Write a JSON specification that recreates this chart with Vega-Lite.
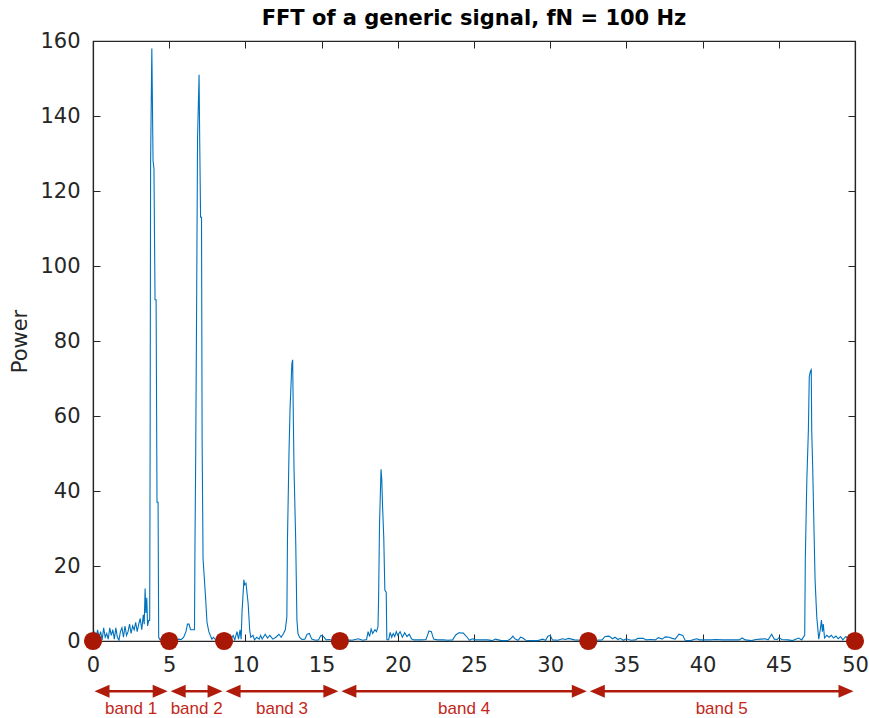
{
  "$schema": "https://vega.github.io/schema/vega-lite/v6.json",
  "autosize": "none",
  "width": 762,
  "height": 600,
  "padding": {"left": 93, "top": 41, "right": 14, "bottom": 77},
  "background": "white",
  "config": {
    "view": {"stroke": "#262626", "strokeWidth": 1.2},
    "font": "DejaVu Sans",
    "axis": {"grid": false}
  },
  "title": {
    "text": "FFT of a generic signal, fN = 100 Hz",
    "font": "DejaVu Sans",
    "fontSize": 21,
    "fontWeight": "bold",
    "color": "#000000",
    "anchor": "middle",
    "baseline": "bottom",
    "offset": -20
  },
  "datasets": {
    "fft": [
      {"f":0.0,"p":0.5},{"f":0.1,"p":2.5},{"f":0.2,"p":0.5},{"f":0.3,"p":3},{"f":0.4,"p":1},{"f":0.5,"p":2.5},{"f":0.6,"p":0.3},{"f":0.7,"p":3.5},{"f":0.8,"p":1},{"f":0.9,"p":2},
      {"f":1.0,"p":0.5},{"f":1.1,"p":3.5},{"f":1.2,"p":1.5},{"f":1.3,"p":3},{"f":1.4,"p":0.5},{"f":1.5,"p":3.5},{"f":1.6,"p":1},{"f":1.7,"p":0.2},{"f":1.8,"p":2.5},{"f":1.9,"p":3.5},
      {"f":2.0,"p":1},{"f":2.1,"p":4},{"f":2.2,"p":1.5},{"f":2.3,"p":2.5},{"f":2.4,"p":4.5},{"f":2.5,"p":2},{"f":2.6,"p":4},{"f":2.7,"p":3},{"f":2.8,"p":5},{"f":2.9,"p":2.5},
      {"f":3.0,"p":4.5},{"f":3.1,"p":6},{"f":3.2,"p":3},{"f":3.3,"p":7},{"f":3.36,"p":4.5},{"f":3.42,"p":14},{"f":3.47,"p":7.5},{"f":3.53,"p":11.5},{"f":3.58,"p":4},{"f":3.66,"p":5.5},
      {"f":3.72,"p":5.5},{"f":3.75,"p":55},{"f":3.78,"p":128},{"f":3.86,"p":158},{"f":3.89,"p":147},{"f":3.94,"p":128},{"f":4.0,"p":126},{"f":4.07,"p":91},{"f":4.14,"p":91},{"f":4.2,"p":37},
      {"f":4.27,"p":37},{"f":4.31,"p":1},{"f":4.4,"p":0.3},{"f":4.5,"p":0.8},{"f":4.6,"p":0.3},{"f":4.7,"p":0.6},{"f":4.8,"p":0.2},{"f":4.9,"p":0.4},{"f":5.0,"p":0.3},{"f":5.2,"p":0.5},
      {"f":5.4,"p":0.2},{"f":5.6,"p":0.5},{"f":5.8,"p":0.4},{"f":5.95,"p":1},{"f":6.1,"p":2.5},{"f":6.2,"p":4.5},{"f":6.3,"p":4.5},{"f":6.4,"p":3},{"f":6.55,"p":3},{"f":6.66,"p":3},
      {"f":6.69,"p":25},{"f":6.74,"p":50},{"f":6.8,"p":90},{"f":6.86,"p":134},{"f":6.96,"p":151},{"f":7.0,"p":134},{"f":7.06,"p":113},{"f":7.12,"p":113},{"f":7.16,"p":54},{"f":7.22,"p":22},
      {"f":7.38,"p":12},{"f":7.48,"p":5},{"f":7.6,"p":2.5},{"f":7.7,"p":1.5},{"f":7.8,"p":0.5},{"f":7.9,"p":1},{"f":8.0,"p":0.5},{"f":8.2,"p":0.3},{"f":8.4,"p":0.8},{"f":8.6,"p":0.3},
      {"f":8.8,"p":0.5},{"f":9.0,"p":0.3},{"f":9.2,"p":1.5},{"f":9.3,"p":0.3},{"f":9.45,"p":2.5},{"f":9.55,"p":0.5},{"f":9.65,"p":3},{"f":9.72,"p":0.5},{"f":9.78,"p":7.8},{"f":9.9,"p":16.3},
      {"f":9.95,"p":15},{"f":10.04,"p":15.4},{"f":10.18,"p":10},{"f":10.28,"p":3},{"f":10.35,"p":1},{"f":10.5,"p":1.5},{"f":10.6,"p":0.3},{"f":10.75,"p":1},{"f":10.9,"p":0.5},{"f":11.0,"p":1.5},
      {"f":11.1,"p":0.5},{"f":11.3,"p":1.8},{"f":11.45,"p":0.8},{"f":11.6,"p":1.5},{"f":11.8,"p":0.5},{"f":12.0,"p":1},{"f":12.2,"p":1.8},{"f":12.35,"p":1},{"f":12.5,"p":2},{"f":12.62,"p":3},
      {"f":12.72,"p":6.5},{"f":12.76,"p":27},{"f":12.86,"p":50},{"f":12.93,"p":62},{"f":13.05,"p":74},{"f":13.1,"p":75},{"f":13.14,"p":61},{"f":13.19,"p":46},{"f":13.3,"p":27},{"f":13.38,"p":5.6},
      {"f":13.45,"p":2},{"f":13.55,"p":1},{"f":13.7,"p":0.4},{"f":13.9,"p":0.5},{"f":14.05,"p":1.8},{"f":14.2,"p":2},{"f":14.35,"p":0.5},{"f":14.6,"p":0.2},{"f":14.8,"p":0.3},{"f":14.95,"p":1.5},
      {"f":15.1,"p":1.3},{"f":15.3,"p":0.3},{"f":15.5,"p":0.4},{"f":15.7,"p":0.2},{"f":15.9,"p":0.3},{"f":16.1,"p":0.3},{"f":16.4,"p":0.2},{"f":16.7,"p":0.3},{"f":17.0,"p":0.2},{"f":17.4,"p":0.6},
      {"f":17.7,"p":0.2},{"f":17.95,"p":0.4},{"f":18.05,"p":2.5},{"f":18.15,"p":1.2},{"f":18.25,"p":3.2},{"f":18.35,"p":2},{"f":18.5,"p":3},{"f":18.6,"p":2.5},{"f":18.7,"p":3.8},{"f":18.74,"p":11.5},
      {"f":18.8,"p":31},{"f":18.9,"p":45.8},{"f":18.95,"p":43},{"f":19.0,"p":36},{"f":19.08,"p":27.4},{"f":19.15,"p":13.6},{"f":19.24,"p":13},{"f":19.28,"p":0.4},{"f":19.4,"p":0.3},{"f":19.5,"p":2.3},
      {"f":19.6,"p":1},{"f":19.7,"p":2},{"f":19.8,"p":1.2},{"f":19.9,"p":2.5},{"f":20.0,"p":1.5},{"f":20.15,"p":2.5},{"f":20.3,"p":1},{"f":20.45,"p":2.2},{"f":20.6,"p":1.2},{"f":20.75,"p":1.8},
      {"f":20.9,"p":0.6},{"f":21.05,"p":0.3},{"f":21.3,"p":0.3},{"f":21.6,"p":0.3},{"f":21.85,"p":0.4},{"f":22.05,"p":2.7},{"f":22.2,"p":2.5},{"f":22.35,"p":0.5},{"f":22.6,"p":0.3},{"f":23.0,"p":0.3},
      {"f":23.3,"p":0.2},{"f":23.6,"p":0.3},{"f":23.8,"p":1.6},{"f":24.0,"p":2.2},{"f":24.3,"p":2.1},{"f":24.55,"p":1},{"f":24.7,"p":0.2},{"f":24.9,"p":0.6},{"f":25.1,"p":0.3},{"f":25.5,"p":0.3},
      {"f":25.9,"p":0.3},{"f":26.2,"p":0.1},{"f":26.4,"p":0.5},{"f":26.8,"p":0.1},{"f":27.2,"p":0.1},{"f":27.4,"p":0.6},{"f":27.55,"p":1.3},{"f":27.7,"p":0.5},{"f":27.9,"p":0.2},{"f":28.05,"p":1},
      {"f":28.2,"p":0.8},{"f":28.4,"p":0.2},{"f":28.8,"p":0.1},{"f":29.2,"p":0.1},{"f":29.5,"p":0.5},{"f":29.7,"p":0.2},{"f":29.85,"p":1.3},{"f":30.0,"p":1.5},{"f":30.15,"p":0.3},{"f":30.5,"p":0.2},
      {"f":30.8,"p":0.6},{"f":31.0,"p":0.4},{"f":31.2,"p":0.7},{"f":31.4,"p":0.5},{"f":31.6,"p":0.3},{"f":32.0,"p":0.2},{"f":32.5,"p":0.3},{"f":33.0,"p":0.2},{"f":33.4,"p":0.3},{"f":33.6,"p":1.2},
      {"f":33.85,"p":1.3},{"f":34.1,"p":0.6},{"f":34.25,"p":1},{"f":34.45,"p":0.4},{"f":34.6,"p":0.7},{"f":34.8,"p":0.2},{"f":35.0,"p":0.6},{"f":35.3,"p":0.2},{"f":35.6,"p":0.3},{"f":35.75,"p":0.7},
      {"f":36.1,"p":0.7},{"f":36.3,"p":0.3},{"f":36.6,"p":0.4},{"f":36.9,"p":0.3},{"f":37.1,"p":0.9},{"f":37.35,"p":0.5},{"f":37.55,"p":1.1},{"f":37.8,"p":1},{"f":38.0,"p":0.7},{"f":38.2,"p":0.5},
      {"f":38.45,"p":1.8},{"f":38.7,"p":1.5},{"f":38.85,"p":0.2},{"f":39.2,"p":0.1},{"f":39.6,"p":0.6},{"f":39.8,"p":0.3},{"f":40.1,"p":0.3},{"f":40.5,"p":0.3},{"f":40.9,"p":0.4},{"f":41.3,"p":0.3},
      {"f":41.7,"p":0.3},{"f":42.0,"p":0.3},{"f":42.4,"p":0.3},{"f":42.6,"p":0.8},{"f":42.8,"p":0.3},{"f":43.2,"p":0.1},{"f":43.5,"p":0.4},{"f":43.8,"p":0.5},{"f":44.1,"p":0.6},{"f":44.3,"p":0.3},
      {"f":44.53,"p":1.8},{"f":44.7,"p":0.5},{"f":44.9,"p":0.4},{"f":45.0,"p":0.9},{"f":45.2,"p":0.4},{"f":45.6,"p":0.3},{"f":45.9,"p":0.1},{"f":46.3,"p":0.8},{"f":46.5,"p":0.3},{"f":46.7,"p":1.6},
      {"f":46.74,"p":22},{"f":46.84,"p":43},{"f":46.94,"p":56},{"f":47.0,"p":70.5},{"f":47.08,"p":72},{"f":47.13,"p":72.3},{"f":47.16,"p":56},{"f":47.22,"p":47},{"f":47.38,"p":16.3},{"f":47.49,"p":6.5},
      {"f":47.62,"p":0.5},{"f":47.72,"p":3},{"f":47.8,"p":5.6},{"f":47.86,"p":2.5},{"f":47.92,"p":4.5},{"f":48.0,"p":0.8},{"f":48.15,"p":1.5},{"f":48.3,"p":1},{"f":48.45,"p":1.5},{"f":48.6,"p":0.8},
      {"f":48.75,"p":1.3},{"f":48.9,"p":0.6},{"f":49.05,"p":1.2},{"f":49.2,"p":0.3},{"f":49.4,"p":1.2},{"f":49.6,"p":0.4},{"f":49.8,"p":1.5},{"f":50.0,"p":2}
    ],
    "edges": [{"f":0},{"f":5},{"f":8.6},{"f":16.2},{"f":32.5},{"f":50}],
    "bands": [
      {"band":"band 1","start":0,"end":5,"mid":2.5},
      {"band":"band 2","start":5,"end":8.6,"mid":6.8},
      {"band":"band 3","start":8.6,"end":16.2,"mid":12.4},
      {"band":"band 4","start":16.2,"end":32.5,"mid":24.35},
      {"band":"band 5","start":32.5,"end":50,"mid":41.25}
    ]
  },
  "layer": [
    {
      "data": {"name": "fft"},
      "mark": {"type": "line", "color": "#0072BD", "strokeWidth": 1.1},
      "encoding": {
        "x": {"field": "f", "type": "quantitative", "scale": {"domain": [0, 50], "nice": false},
          "axis": {"values": [0,5,10,15,20,25,30,35,40,45,50], "title": null, "orient": "bottom", "labelFlush": false,
            "tickSize": -7, "tickColor": "#262626", "domainColor": "#262626", "domainWidth": 1.2,
            "labelFont": "DejaVu Sans", "labelFontSize": 21, "labelColor": "#262626", "labelPadding": 20}},
        "y": {"field": "p", "type": "quantitative", "scale": {"domain": [0, 160], "nice": false},
          "axis": {"values": [0,20,40,60,80,100,120,140,160], "title": "Power", "orient": "left", "labelFlush": false,
            "tickSize": -7, "tickColor": "#262626", "domainColor": "#262626", "domainWidth": 1.2,
            "labelFont": "DejaVu Sans", "labelFontSize": 21, "labelColor": "#262626", "labelPadding": 20,
            "titleFont": "DejaVu Sans", "titleFontSize": 21, "titleFontWeight": "normal", "titleColor": "#262626", "titlePadding": 9}}
      }
    },
    {
      "data": {"name": "edges"},
      "mark": {"type": "circle", "size": 330, "color": "#a81804", "opacity": 1},
      "encoding": {
        "x": {"field": "f", "type": "quantitative", "scale": {"domain": [0, 50], "nice": false},
          "axis": {"values": [0,5,10,15,20,25,30,35,40,45,50], "orient": "top", "labels": false, "title": null,
            "tickSize": -7, "tickColor": "#262626", "domainColor": "#262626", "domainWidth": 1.2}},
        "y": {"datum": 0, "type": "quantitative", "scale": {"domain": [0, 160], "nice": false},
          "axis": {"values": [0,20,40,60,80,100,120,140,160], "orient": "right", "labels": false, "title": null,
            "tickSize": -7, "tickColor": "#262626", "domainColor": "#262626", "domainWidth": 1.2}}
      }
    },
    {
      "data": {"name": "bands"},
      "mark": {"type": "rule", "color": "#b01c0c", "strokeWidth": 2.5, "xOffset": 10, "x2Offset": -10},
      "encoding": {
        "x": {"field": "start", "type": "quantitative", "axis": null},
        "x2": {"field": "end"},
        "y": {"datum": -13.4, "type": "quantitative", "axis": null}
      }
    },
    {
      "data": {"name": "bands"},
      "mark": {"type": "point", "shape": "M-1,0L1,-0.87L1,0.87Z", "size": 225, "filled": true, "color": "#b01c0c", "opacity": 1, "xOffset": 9},
      "encoding": {
        "x": {"field": "start", "type": "quantitative", "axis": null},
        "y": {"datum": -13.4, "type": "quantitative", "axis": null}
      }
    },
    {
      "data": {"name": "bands"},
      "mark": {"type": "point", "shape": "M1,0L-1,-0.87L-1,0.87Z", "size": 225, "filled": true, "color": "#b01c0c", "opacity": 1, "xOffset": -9},
      "encoding": {
        "x": {"field": "end", "type": "quantitative", "axis": null},
        "y": {"datum": -13.4, "type": "quantitative", "axis": null}
      }
    },
    {
      "data": {"name": "bands"},
      "mark": {"type": "text", "color": "#c2271a", "font": "Liberation Sans", "fontSize": 17, "baseline": "alphabetic", "align": "center"},
      "encoding": {
        "x": {"field": "mid", "type": "quantitative", "axis": null},
        "y": {"datum": -19.4, "type": "quantitative", "axis": null},
        "text": {"field": "band"}
      }
    }
  ],
  "resolve": {"axis": {"x": "independent", "y": "independent"}}
}
